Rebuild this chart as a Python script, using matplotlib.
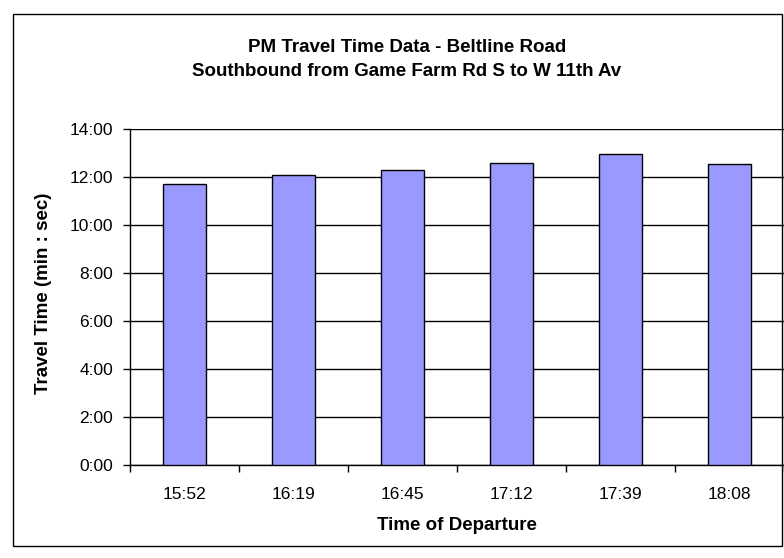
import matplotlib
matplotlib.use("Agg")
import matplotlib.pyplot as plt
from matplotlib.patches import Rectangle
from matplotlib.ticker import FuncFormatter, FixedLocator

# data
departure = ["15:52", "16:19", "16:45", "17:12", "17:39", "18:08"]
travel_time = ["11:43", "12:06", "12:17", "12:35", "12:58", "12:33"]

def to_minutes(s):
    m, sec = s.split(":")
    return int(m) + int(sec) / 60.0

minutes = [to_minutes(t) for t in travel_time]

plt.rcParams["font.family"] = ["Liberation Sans", "DejaVu Sans"]

W, H = 784, 558
fig = plt.figure(figsize=(W / 100, H / 100), dpi=100)

# outer chart border
fig.patches.append(Rectangle((13 / W, 1 - 546 / H), (782 - 13) / W, (546 - 14) / H,
                             transform=fig.transFigure, fill=False,
                             edgecolor="black", linewidth=1.0))

ax = fig.add_axes([130 / W, 1 - 465 / H, (784 - 130) / W, (465 - 129) / H])

x = list(range(len(departure)))
ax.bar(x, minutes, width=0.4, color="#9999ff", edgecolor="black", linewidth=1.0, zorder=3)

ax.set_xlim(-0.5, len(departure) - 0.5)
ax.set_ylim(0, 14)

ax.yaxis.set_major_locator(FixedLocator(range(0, 15, 2)))
ax.yaxis.set_major_formatter(FuncFormatter(lambda v, p: "%d:%02d" % (int(v), round((v - int(v)) * 60))))
ax.grid(axis="y", color="black", linewidth=1.0, zorder=0)

# ticks between categories, labels at centres
ax.set_xticks([i - 0.5 for i in range(len(departure) + 1)])
ax.set_xticklabels([])
ax.set_xticks(x, minor=True)
ax.set_xticklabels(departure, minor=True)
ax.tick_params(axis="x", which="major", direction="out", length=5, width=1, color="black")
ax.tick_params(axis="x", which="minor", length=0, pad=16, labelsize=12.5)
ax.tick_params(axis="y", direction="out", length=5, width=1, color="black", pad=7, labelsize=12.5)

for s in ["top", "right"]:
    ax.spines[s].set_visible(False)
for s in ["left", "bottom"]:
    ax.spines[s].set_color("black")
    ax.spines[s].set_linewidth(1.0)

fig.text(407 / W, 1 - 48 / H, "PM Travel Time Data - Beltline Road", ha="center", va="center",
         fontsize=13.5, fontweight="bold")
fig.text(407 / W, 1 - 71 / H, "Southbound from Game Farm Rd S to W 11th Av", ha="center", va="center",
         fontsize=13.5, fontweight="bold")
fig.text(44 / W, 1 - 293 / H, "Travel Time (min : sec)", rotation=90, ha="center", va="center",
         fontsize=13.5, fontweight="bold")
fig.text(457 / W, 1 - 526 / H, "Time of Departure", ha="center", va="center",
         fontsize=13.5, fontweight="bold")

fig.savefig("out.png", dpi=100)
